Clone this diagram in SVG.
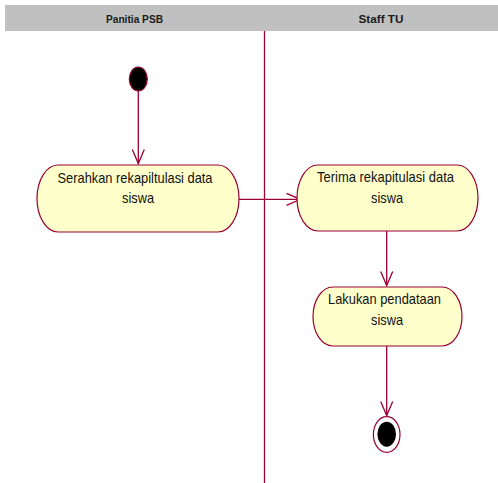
<svg xmlns="http://www.w3.org/2000/svg" width="498" height="483" viewBox="0 0 498 483">
  <style>
    .lane-head { fill: #c0c0c0; }
    .lane-title { font-family: "Liberation Sans", Arial, sans-serif; font-size: 11px; font-weight: bold; fill: #1a1a1a; text-anchor: middle; }
    .divider { stroke: #990033; stroke-width: 1.3; fill: none; }
    .activity { fill: #ffffcc; stroke: #990033; stroke-width: 1.2; }
    .label { font-family: "Liberation Sans", Arial, sans-serif; font-size: 15px; fill: #111; text-anchor: middle; }
    .flow { stroke: #990033; stroke-width: 1.3; fill: none; marker-end: url(#open-arrow); }
    .start { fill: #000; stroke: #990033; stroke-width: 1.2; }
    .end-ring { fill: #fff; stroke: #990033; stroke-width: 1.2; }
  </style>
  <defs>
    <marker id="open-arrow" markerUnits="userSpaceOnUse" viewBox="-16 -8 18 16" refX="0" refY="0" markerWidth="18" markerHeight="16" orient="auto">
      <path d="M-14,-6 L0,0 L-14,6" fill="none" stroke="#990033" stroke-width="1.3"/>
    </marker>
  </defs>

  <!-- swimlane headers -->
  <g id="lanes">
    <rect class="lane-head" x="5" y="5" width="493" height="26"/>
    <text class="lane-title" x="134.5" y="23" textLength="57" lengthAdjust="spacingAndGlyphs">Panitia PSB</text>
    <text class="lane-title" x="381" y="23" textLength="45" lengthAdjust="spacingAndGlyphs">Staff TU</text>
    <line class="divider" x1="264.5" y1="31" x2="264.5" y2="483"/>
  </g>

  <!-- transitions -->
  <g id="connectors">
    <line class="flow" x1="138.3" y1="91" x2="138.3" y2="163.5"/>
    <line class="flow" x1="232.7" y1="199.3" x2="300.5" y2="199.3"/>
    <line class="flow" x1="386.7" y1="231" x2="386.7" y2="285.5"/>
    <line class="flow" x1="386.7" y1="346" x2="386.7" y2="415.5"/>
  </g>

  <g id="start">
    <ellipse class="start" cx="138.3" cy="79" rx="9" ry="12"/>
  </g>

  <g id="serahkan">
    <rect class="activity" x="37" y="165" width="202" height="67" rx="21" ry="33.5"/>
    <text class="label" x="135" y="183" textLength="155" lengthAdjust="spacingAndGlyphs">Serahkan rekapiltulasi data</text>
    <text class="label" x="138" y="203" textLength="32" lengthAdjust="spacingAndGlyphs">siswa</text>
  </g>

  <g id="terima">
    <rect class="activity" x="297" y="165" width="181" height="66" rx="21" ry="33"/>
    <text class="label" x="385.5" y="182" textLength="137" lengthAdjust="spacingAndGlyphs">Terima rekapitulasi data</text>
    <text class="label" x="387" y="203" textLength="32" lengthAdjust="spacingAndGlyphs">siswa</text>
  </g>

  <g id="pendataan">
    <rect class="activity" x="313" y="287" width="149" height="59" rx="20" ry="29.5"/>
    <text class="label" x="384.5" y="304" textLength="113" lengthAdjust="spacingAndGlyphs">Lakukan pendataan</text>
    <text class="label" x="387" y="324.5" textLength="32" lengthAdjust="spacingAndGlyphs">siswa</text>
  </g>

  <g id="end">
    <ellipse class="end-ring" cx="386.7" cy="434.5" rx="13.3" ry="17.8"/>
    <ellipse cx="386.7" cy="434.2" rx="9.3" ry="12.5" fill="#000"/>
  </g>
</svg>
